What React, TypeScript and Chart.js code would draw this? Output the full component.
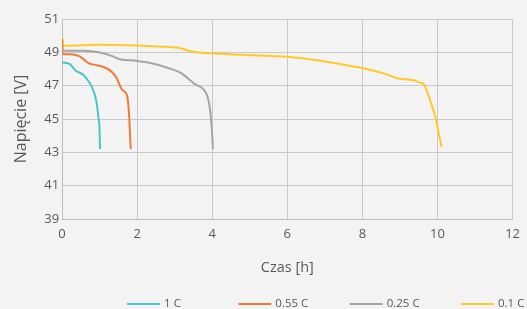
import React, { useEffect, useRef } from "react";
import { Chart, registerables } from "chart.js";

Chart.register(...registerables);

const seriesLabels = ["1 C", "0.55 C", "0.25 C", "0.1 C"];
const seriesColors = ["#4DC5C3", "#EF7B3A", "#A5A5A5", "#FFC928"];

const time1C = [0, 0.21, 0.35, 0.57, 0.7, 0.84, 0.92, 0.97, 1.0, 1.01];
const volt1C = [48.4, 48.29, 47.93, 47.64, 47.28, 46.68, 45.98, 45.07, 44.27, 43.2];

const time055C = [0, 0.01, 0.21, 0.44, 0.57, 0.7, 0.92, 1.14, 1.32, 1.45, 1.59, 1.71, 1.75, 1.79, 1.81, 1.83];
const volt055C = [49.8, 48.9, 48.89, 48.79, 48.59, 48.35, 48.23, 48.09, 47.84, 47.48, 46.78, 46.52, 46.18, 45.07, 44.07, 43.2];

const time025C = [0, 0.02, 0.57, 1.01, 1.32, 1.54, 1.98, 2.42, 2.78, 3.15, 3.55, 3.77, 3.88, 3.94, 3.98, 4.02];
const volt025C = [49.5, 49.1, 49.09, 48.99, 48.79, 48.59, 48.49, 48.33, 48.09, 47.78, 47.08, 46.78, 46.3, 45.6, 44.67, 43.2];

const time01C = [0, 0.04, 1.01, 2.17, 2.78, 3.15, 3.49, 3.94, 4.84, 5.99, 6.88, 7.5, 8.03, 8.65, 8.92, 9.37, 9.54, 9.64, 9.81, 9.95, 10.03, 10.11];
const volt01C = [49.93, 49.4, 49.45, 49.39, 49.33, 49.25, 49.03, 48.95, 48.85, 48.73, 48.49, 48.25, 48.05, 47.68, 47.45, 47.33, 47.18, 47.08, 46.08, 45.07, 44.17, 43.31];

const seriesTimes = [time1C, time055C, time025C, time01C];
const seriesVolts = [volt1C, volt055C, volt025C, volt01C];

const xTitle = "Czas [h]";
const yTitle = "Napięcie [V]";
const xMin = 0, xMax = 12, xStep = 2;
const yMin = 39, yMax = 51, yStep = 2;

const BG = "#F2F3F2";
const TEXT = "#595959";
const GRID = "#C9C9C9";
const FONT = '"Open Sans", "Noto Sans", sans-serif';

const bgPlugin = {
  id: "bgFill",
  beforeDraw(chart: any) {
    const { ctx, width, height } = chart;
    ctx.save();
    ctx.fillStyle = BG;
    ctx.fillRect(0, 0, width, height);
    ctx.restore();
  },
};

const legendPlugin = {
  id: "customLegend",
  afterDraw(chart: any) {
    const { ctx } = chart;
    const y = chart.height - 5;
    const start = chart.chartArea.left + 65;
    const slot = 111.3;
    ctx.save();
    ctx.font = `11.5px ${FONT}`;
    ctx.textBaseline = "middle";
    ctx.textAlign = "left";
    chart.data.datasets.forEach((ds: any, i: number) => {
      const x0 = start + i * slot;
      ctx.strokeStyle = ds.borderColor;
      ctx.lineWidth = 2;
      ctx.beginPath();
      ctx.moveTo(x0, y);
      ctx.lineTo(x0 + 33, y);
      ctx.stroke();
      ctx.fillStyle = TEXT;
      ctx.fillText(ds.label, x0 + 37, y);
    });
    ctx.restore();
  },
};

export default function App() {
  const ref = useRef<HTMLCanvasElement>(null);

  useEffect(() => {
    document.body.style.margin = "0";
    document.body.style.background = BG;
    const canvas = ref.current;
    if (!canvas) return;
    const datasets = seriesLabels.map((label, i) => ({
      label,
      data: seriesTimes[i].map((t, j) => ({ x: t, y: seriesVolts[i][j] })),
      borderColor: seriesColors[i],
      backgroundColor: seriesColors[i],
      borderWidth: 2,
      pointRadius: 0,
      cubicInterpolationMode: "monotone" as const,
      fill: false,
    }));
    const chart = new Chart(canvas, {
      type: "line",
      data: { datasets },
      plugins: [bgPlugin, legendPlugin],
      options: {
        responsive: false,
        animation: false,
        devicePixelRatio: 1,
        layout: { padding: { top: 19, right: 12, bottom: 32, left: 0 } },
        plugins: {
          legend: { display: false },
          tooltip: { enabled: false },
        },
        scales: {
          x: {
            type: "linear",
            min: xMin,
            max: xMax,
            ticks: { stepSize: xStep, color: TEXT, font: { size: 13, family: FONT }, padding: 7 },
            grid: { color: GRID, drawTicks: false, lineWidth: 1 },
            border: { color: "#BDBDBD" },
            title: {
              display: true,
              text: xTitle,
              color: TEXT,
              font: { size: 14.5, family: FONT },
              padding: { top: 11, bottom: 0 },
            },
          },
          y: {
            type: "linear",
            min: yMin,
            max: yMax,
            ticks: { stepSize: yStep, color: TEXT, font: { size: 13, family: FONT }, padding: 3 },
            grid: { color: GRID, drawTicks: false, lineWidth: 1 },
            border: { color: "#BDBDBD" },
            title: {
              display: true,
              text: yTitle,
              color: TEXT,
              font: { size: 16, family: FONT },
              padding: { top: 12, bottom: 10 },
            },
          },
        },
      },
    });
    return () => chart.destroy();
  }, []);

  return (
    <div style={{ position: "fixed", left: 0, top: 0, width: 527, height: 309, background: BG }}>
      <canvas ref={ref} width={527} height={309} style={{ display: "block" }} />
    </div>
  );
}
